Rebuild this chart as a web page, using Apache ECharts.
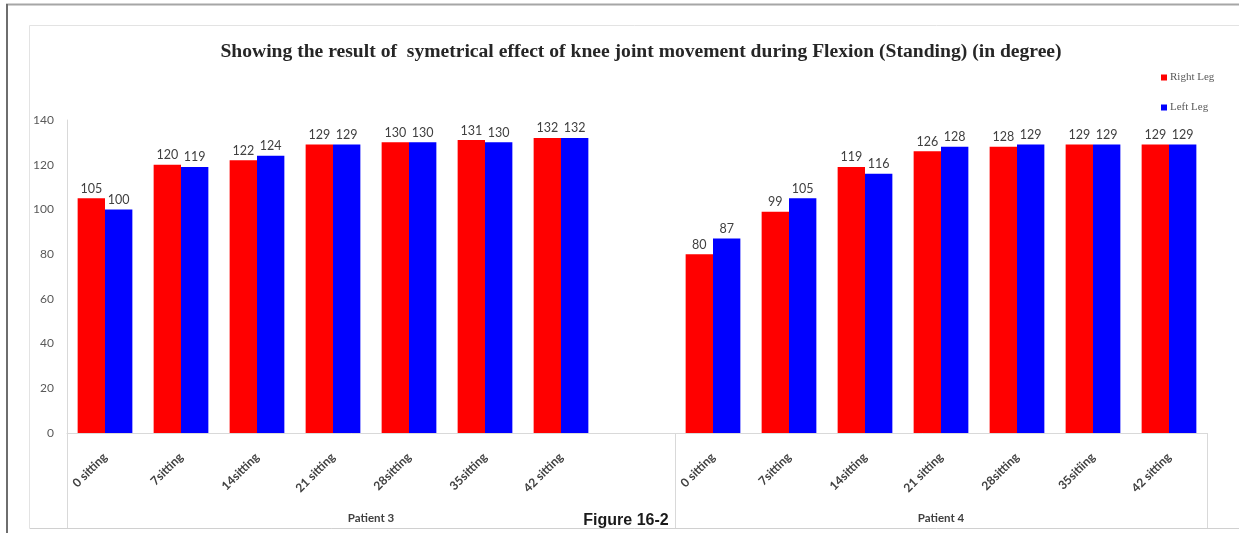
<!DOCTYPE html>
<html>
<head>
<meta charset="utf-8">
<script src="https://cdn.jsdelivr.net/npm/echarts@6/dist/echarts.min.js"></script>
<style>
html,body{margin:0;padding:0;background:#fff;}
#chart{width:1239px;height:533px;}
</style>
</head>
<body>
<div id="chart"></div>
<script>
const titleText = 'Showing the result of  symetrical effect of knee joint movement during Flexion (Standing) (in degree)';
const categories = ['0 sitting','7sitting','14sitting','21 sitting','28sitting','35sitting','42 sitting','',
                    '0 sitting','7sitting','14sitting','21 sitting','28sitting','35sitiing','42 sitting'];
const rightLeg = [105,120,122,129,130,131,132,'-',80,99,119,126,128,129,129];
const leftLeg  = [100,119,124,129,130,130,132,'-',87,105,116,128,129,129,129];
const groupNames = ['Patient 3','Patient 4'];
const groupStarts = [0, 8];   // category index where each group starts
const yTicks = {min:0, max:140, interval:20};
const figureLabel = 'Figure 16-2';

const chart = echarts.init(document.getElementById('chart'), null, {renderer:'canvas'});
const labelFont = 'Lato, "Open Sans", sans-serif';

const option = {
  animation:false,
  backgroundColor:'#fff',
  title:{
    text:titleText,
    left:636, top:37, textAlign:'center',
    textStyle:{fontFamily:'"Liberation Serif", serif', fontWeight:'bold', fontSize:19.6, color:'#262626'}
  },
  legend:{
    orient:'vertical', left:1156, top:67, itemGap:19,
    itemWidth:6, itemHeight:6, icon:'rect',
    textStyle:{fontFamily:'"Liberation Serif", serif', fontSize:11, color:'#595959', padding:[0,0,0,-2]},
    data:['Right Leg','Left Leg']
  },
  grid:{left:67, right:32, top:120, bottom:100, containLabel:false},
  xAxis:{
    type:'category', data:categories,
    axisLine:{show:true, lineStyle:{color:'#d9d9d9', width:1}},
    axisTick:{show:false},
    axisLabel:{interval:0, rotate:45, margin:22, fontFamily:labelFont, fontWeight:'bold', fontSize:12, color:'#404040'}
  },
  yAxis:{
    type:'value', min:yTicks.min, max:yTicks.max, interval:yTicks.interval,
    axisLine:{show:true, lineStyle:{color:'#d9d9d9'}},
    axisTick:{show:false},
    splitLine:{show:false},
    axisLabel:{margin:13, fontFamily:labelFont, fontSize:12, color:'#595959'}
  },
  series:[
    {name:'Right Leg', type:'bar', data:rightLeg, barGap:'0%', barCategoryGap:'28%',
     itemStyle:{color:'#ff0000'},
     label:{show:true, position:'top', distance:3, fontFamily:labelFont, fontSize:12.5, color:'#404040'}},
    {name:'Left Leg', type:'bar', data:leftLeg, barGap:'0%', barCategoryGap:'28%',
     itemStyle:{color:'#0000ff'},
     label:{show:true, position:'top', distance:3, fontFamily:labelFont, fontSize:12.5, color:'#404040'}}
  ]
};
chart.setOption(option);

// frame & group dividers computed through the axis
const x0 = chart.convertToPixel({xAxisIndex:0}, 0);
const x1 = chart.convertToPixel({xAxisIndex:0}, 1);
const band = x1 - x0;
const yBase = chart.convertToPixel({yAxisIndex:0}, 0);
const boundary = i => x0 - band/2 + i*band;
const n = categories.length;
const bottomY = 528;
const els = [
  {type:'line', shape:{x1:6, y1:4.5, x2:1239, y2:4.5}, style:{stroke:'#a6a6a6', lineWidth:2}},
  {type:'line', shape:{x1:7, y1:4, x2:7, y2:533}, style:{stroke:'#6e6e6e', lineWidth:2}},
  {type:'line', shape:{x1:29.5, y1:25.5, x2:1239, y2:25.5}, style:{stroke:'#e3e3e3', lineWidth:1}},
  {type:'line', shape:{x1:29.5, y1:25.5, x2:29.5, y2:bottomY}, style:{stroke:'#e3e3e3', lineWidth:1}},
  {type:'line', shape:{x1:29.5, y1:bottomY+0.5, x2:1239, y2:bottomY+0.5}, style:{stroke:'#d0d0d0', lineWidth:1}}
];
const bounds = groupStarts.concat([n]);
bounds.forEach(b => {
  const bx = Math.round(boundary(b)) + 0.5;
  els.push({type:'line', shape:{x1:bx, y1:yBase, x2:bx, y2:bottomY}, style:{stroke:'#d9d9d9', lineWidth:1}});
});
groupNames.forEach((g, k) => {
  const cx = (boundary(bounds[k]) + boundary(bounds[k+1]))/2;
  els.push({type:'text', x:cx, y:518, style:{text:g, align:'center', verticalAlign:'middle',
    font:'bold 11.5px Lato, "Open Sans", sans-serif', fill:'#404040'}});
});
els.push({type:'text', x:626, y:521, style:{text:figureLabel, align:'center', verticalAlign:'middle',
  font:'bold 16px "Liberation Sans", Arial, sans-serif', fill:'#1a1a1a'}});
chart.setOption({graphic:{elements:els}});
</script>
</body>
</html>
